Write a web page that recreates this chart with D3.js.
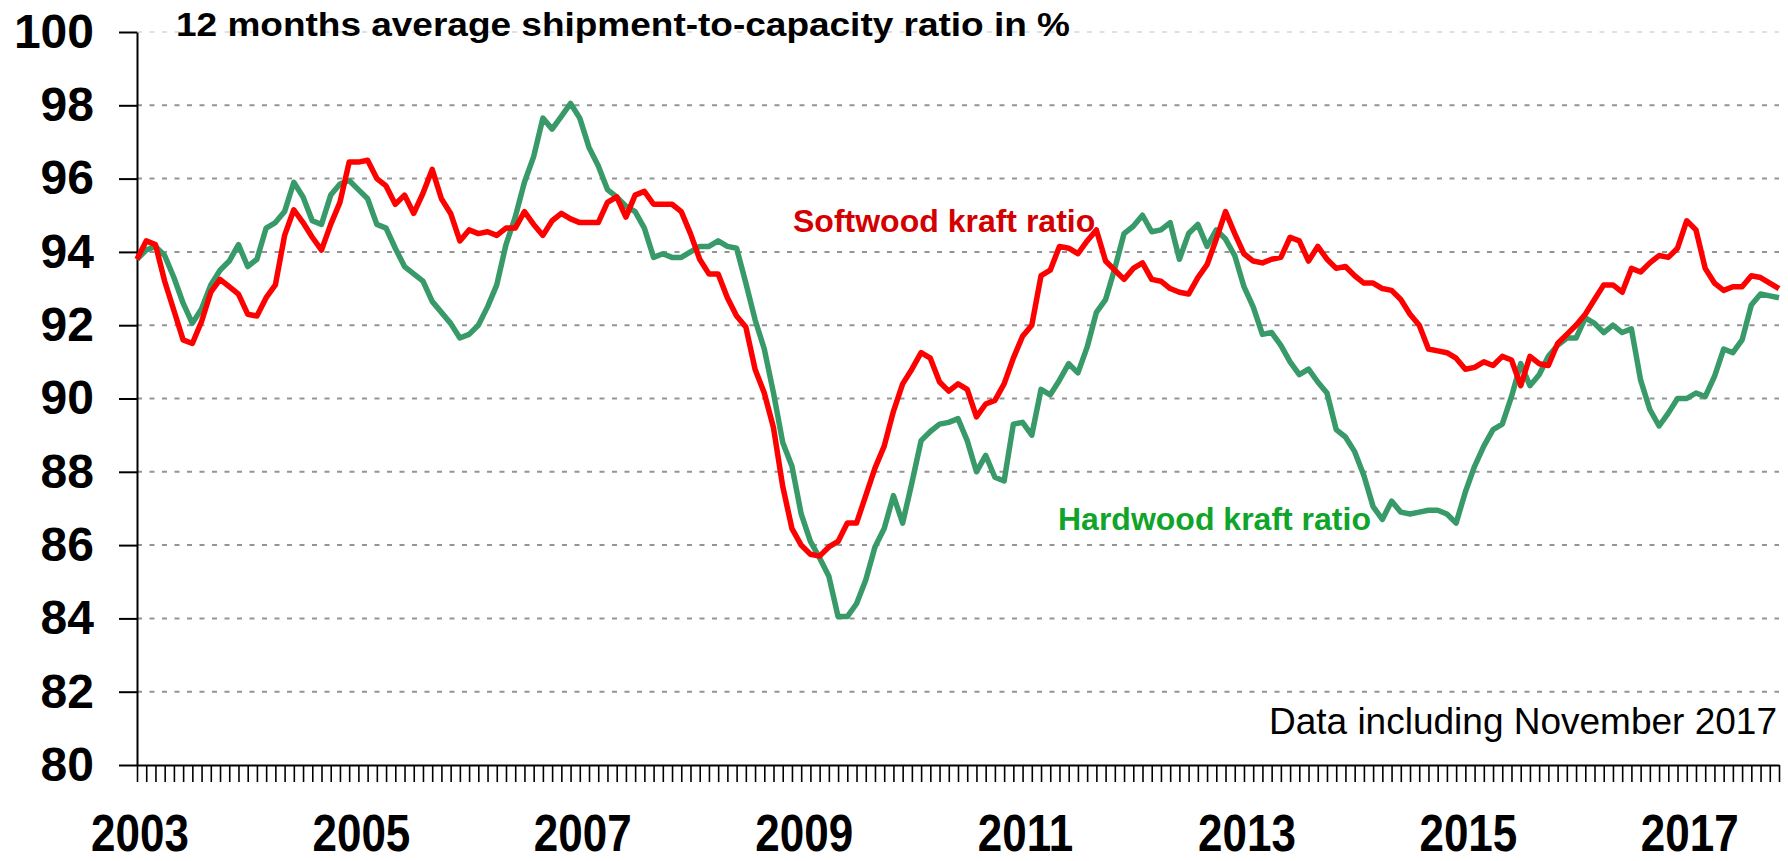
<!DOCTYPE html>
<html>
<head>
<meta charset="utf-8">
<script src="https://cdn.jsdelivr.net/npm/d3@7"></script>
<style>
  body { margin: 0; background: #fff; }
  svg text { font-family: "Liberation Sans", Arial, sans-serif; }
</style>
</head>
<body>
<svg width="1788" height="861"></svg>
<script>
const svg = d3.select('svg')

// chart values
const titleText = '12 months average shipment-to-capacity ratio in %'
const noteText = 'Data including November 2017'
const seriesNames = ['Softwood kraft ratio', 'Hardwood kraft ratio']
const yTicks = [80, 82, 84, 86, 88, 90, 92, 94, 96, 98, 100]
const yearLabels = ['2003', '2005', '2007', '2009', '2011', '2013', '2015', '2017']

// monthly values, Jan 2003 .. Nov 2017
const softwood = [
  93.8, 94.3, 94.2, 93.2, 92.4, 91.6, 91.5, 92.1, 92.9, 93.25,
  93.05, 92.85, 92.3, 92.25, 92.75, 93.1, 94.45, 95.15, 94.8, 94.4,
  94.05, 94.75, 95.35, 96.45, 96.45, 96.5, 96.0, 95.8, 95.3, 95.55,
  95.05, 95.6, 96.25, 95.45, 95.05, 94.3, 94.6, 94.5, 94.55, 94.45,
  94.65, 94.65, 95.1, 94.75, 94.45, 94.85, 95.05, 94.9, 94.8, 94.8,
  94.8, 95.35, 95.5, 94.95, 95.55, 95.65, 95.3, 95.3, 95.3, 95.1,
  94.5, 93.8, 93.4, 93.4, 92.75, 92.25, 91.95, 90.8, 90.15, 89.2,
  87.6, 86.45, 86.0, 85.75, 85.7, 85.95, 86.1, 86.6, 86.6, 87.35,
  88.1, 88.7, 89.65, 90.4, 90.8, 91.25, 91.1, 90.45, 90.2, 90.4,
  90.25, 89.5, 89.85, 89.95, 90.4, 91.1, 91.7, 92.0, 93.35, 93.5,
  94.15, 94.1, 93.95, 94.3, 94.6, 93.75, 93.5, 93.25, 93.55, 93.7,
  93.25, 93.2, 93.0, 92.9, 92.85, 93.3, 93.65, 94.35, 95.1, 94.5,
  93.95, 93.75, 93.7, 93.8, 93.85, 94.4, 94.3, 93.75, 94.15, 93.8,
  93.55, 93.6, 93.35, 93.15, 93.15, 93.0, 92.95, 92.7, 92.3, 92.0,
  91.35, 91.3, 91.25, 91.1, 90.8, 90.85, 91.0, 90.9, 91.15, 91.05,
  90.35, 91.15, 90.95, 90.9, 91.5, 91.75, 92.0, 92.3, 92.7, 93.1,
  93.1, 92.9, 93.55, 93.45, 93.7, 93.9, 93.85, 94.1, 94.85, 94.6,
  93.55, 93.15, 92.95, 93.05, 93.05, 93.35, 93.3, 93.15, 93.0
]
const hardwood = [
  93.8, 94.05, 94.15, 93.9, 93.3, 92.6, 92.05, 92.45, 93.1, 93.5,
  93.75, 94.2, 93.6, 93.8, 94.65, 94.8, 95.1, 95.9, 95.5, 94.85,
  94.75, 95.55, 95.85, 95.95, 95.7, 95.45, 94.75, 94.65, 94.1, 93.6,
  93.4, 93.2, 92.65, 92.35, 92.05, 91.65, 91.75, 92.0, 92.5, 93.1,
  94.2, 94.95, 95.9, 96.6, 97.65, 97.35, 97.7, 98.05, 97.65, 96.85,
  96.35, 95.7, 95.5, 95.25, 95.1, 94.65, 93.85, 93.95, 93.85, 93.85,
  94.0, 94.15, 94.15, 94.3, 94.15, 94.1, 93.15, 92.15, 91.35, 90.15,
  88.8, 88.15, 86.85, 86.1, 85.65, 85.15, 84.05, 84.05, 84.4, 85.05,
  85.95, 86.45, 87.35, 86.6, 87.7, 88.85, 89.1, 89.3, 89.35, 89.45,
  88.85, 88.0, 88.45, 87.85, 87.75, 89.3, 89.35, 89.0, 90.25, 90.1,
  90.5, 90.95, 90.7, 91.4, 92.35, 92.7, 93.55, 94.5, 94.7, 95.0,
  94.55, 94.6, 94.8, 93.8, 94.5, 94.75, 94.15, 94.6, 94.35, 93.9,
  93.05, 92.5, 91.75, 91.8, 91.45, 91.0, 90.65, 90.8, 90.45, 90.15,
  89.15, 88.95, 88.55, 87.9, 87.05, 86.7, 87.2, 86.9, 86.85, 86.9,
  86.95, 86.95, 86.85, 86.6, 87.45, 88.15, 88.7, 89.15, 89.3, 90.05,
  90.95, 90.35, 90.65, 91.15, 91.45, 91.65, 91.65, 92.2, 92.05, 91.8,
  92.0, 91.8, 91.9, 90.5, 89.7, 89.25, 89.6, 90.0, 90.0, 90.15,
  90.05, 90.6, 91.35, 91.25, 91.6, 92.55, 92.85, 92.8, 92.75
]

const months = d3.timeMonths(new Date(2003, 0, 1), new Date(2017, 11, 1))

// scales
const x = d3.scalePoint()
  .domain(months.map((d, i) => i))
  .range([137, 1779])
const y = d3.scaleLinear().domain([80, 100]).range([765, 32])

// dashed gridlines
svg.append('g')
  .attr('class', 'grid')
  .selectAll('line')
  .data(yTicks.filter(v => v > 80))
  .enter().append('line')
    .attr('x1', 137).attr('x2', 1779)
    .attr('y1', d => y(d)).attr('y2', d => y(d))
    .attr('stroke', d => d == 100 ? '#d6d6d6' : '#949494')
    .attr('stroke-width', d => d == 100 ? 1.5 : 2)
    .attr('stroke-dasharray', '5,7.5')

// x axis, a tick for every month
const xAxis = svg.append('g')
  .attr('transform', 'translate(0,765)')
  .call(d3.axisBottom(x).tickSize(17).tickSizeOuter(0).tickFormat(''))
xAxis.select('.domain').attr('stroke', '#000').attr('stroke-width', 2)
xAxis.selectAll('.tick line').attr('stroke', '#000').attr('stroke-width', 1.6)

// year labels under January (the original stretches them a little vertically)
svg.append('g')
  .selectAll('text')
  .data(yearLabels)
  .enter().append('text')
    .attr('transform', d => 'translate(' + (x((+d - 2003) * 12) + 3) + ',851) scale(1,1.18)')
    .attr('text-anchor', 'middle')
    .attr('font-size', 44)
    .attr('font-weight', 'bold')
    .text(d => d)

// y axis
const yAxis = svg.append('g')
  .attr('transform', 'translate(137,0)')
  .call(d3.axisLeft(y).tickValues(yTicks).tickSize(18).tickSizeOuter(0).tickPadding(25))
yAxis.select('.domain').attr('stroke', '#000').attr('stroke-width', 2)
yAxis.selectAll('.tick line').attr('stroke', '#000').attr('stroke-width', 2)
yAxis.selectAll('.tick text')
  .attr('font-size', 48)
  .attr('font-weight', 'bold')
  .attr('font-family', '"Liberation Sans", Arial, sans-serif')
  .attr('fill', '#000')

// the two lines
const line = d3.line()
  .x((d, i) => x(i))
  .y(d => y(d))

svg.append('path')
  .datum(hardwood)
  .attr('fill', 'none')
  .attr('stroke', '#389a68')
  .attr('stroke-width', 5.5)
  .attr('stroke-linejoin', 'round')
  .attr('d', line)

svg.append('path')
  .datum(softwood)
  .attr('fill', 'none')
  .attr('stroke', '#ff0000')
  .attr('stroke-width', 5.5)
  .attr('stroke-linejoin', 'round')
  .attr('d', line)

// texts
svg.append('text')
  .attr('x', 176).attr('y', 36)
  .attr('font-size', 34)
  .attr('font-weight', 'bold')
  .attr('textLength', 894)
  .attr('lengthAdjust', 'spacingAndGlyphs')
  .text(titleText)

svg.append('text')
  .attr('x', 793).attr('y', 232)
  .attr('font-size', 32)
  .attr('font-weight', 'bold')
  .attr('fill', '#d40000')
  .text(seriesNames[0])

svg.append('text')
  .attr('x', 1058).attr('y', 530)
  .attr('font-size', 32)
  .attr('font-weight', 'bold')
  .attr('fill', '#10a52a')
  .text(seriesNames[1])

svg.append('text')
  .attr('x', 1777).attr('y', 734)
  .attr('text-anchor', 'end')
  .attr('font-size', 37)
  .text(noteText)
</script>
</body>
</html>
